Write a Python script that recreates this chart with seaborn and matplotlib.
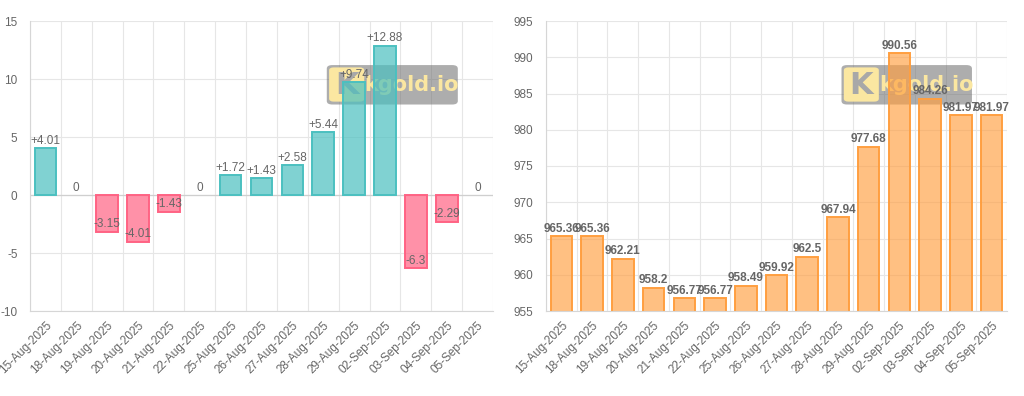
import matplotlib
matplotlib.use("Agg")
import matplotlib.pyplot as plt
import seaborn as sns
import numpy as np
from matplotlib.patches import FancyBboxPatch
from matplotlib.ticker import FixedLocator

dates = ['15-Aug-2025', '18-Aug-2025', '19-Aug-2025', '20-Aug-2025', '21-Aug-2025',
         '22-Aug-2025', '25-Aug-2025', '26-Aug-2025', '27-Aug-2025', '28-Aug-2025',
         '29-Aug-2025', '02-Sep-2025', '03-Sep-2025', '04-Sep-2025', '05-Sep-2025']
changes = [4.01, 0, -3.15, -4.01, -1.43, 0, 1.72, 1.43, 2.58, 5.44, 9.74, 12.88, -6.3, -2.29, 0]
prices = [965.36, 965.36, 962.21, 958.2, 956.77, 956.77, 958.49, 959.92, 962.5, 967.94,
          977.68, 990.56, 984.26, 981.97, 981.97]
left_yticks = [-10, -5, 0, 5, 10, 15]
right_yticks = [955, 960, 965, 970, 975, 980, 985, 990, 995]

sns.set_theme(style="white")
plt.rcParams['font.family'] = ['Liberation Sans', 'DejaVu Sans']
plt.rcParams['axes.unicode_minus'] = False

GRID = '#e6e6e6'
TXT = '#666666'
UP_FILL = (75/255, 192/255, 192/255, 0.7)
UP_EDGE = (75/255, 192/255, 192/255, 1.0)
DN_FILL = (255/255, 99/255, 132/255, 0.7)
DN_EDGE = (255/255, 99/255, 132/255, 1.0)
OR_FILL = (255/255, 159/255, 64/255, 0.65)
OR_EDGE = (255/255, 159/255, 64/255, 1.0)

fig = plt.figure(figsize=(10.24, 3.96), dpi=100)
axL = fig.add_axes([30/1024, 85/396, 463/1024, 290/396])
axR = fig.add_axes([546/1024, 85/396, 461/1024, 290/396])

n = len(dates)


def style_axes(ax, yticks, ylim):
    ax.set_xlim(-0.5, n - 0.5)
    ax.set_ylim(*ylim)
    ax.set_yticks(yticks)
    ax.set_yticklabels([str(t) for t in yticks])
    ax.set_xticks(range(n))
    ax.set_xticklabels(dates, rotation=45, ha='right', rotation_mode='anchor',
                       fontsize=8.5, color=TXT)
    ax.xaxis.set_minor_locator(FixedLocator(np.arange(-0.5, n, 1.0)))
    ax.tick_params(axis='x', which='major', length=0, pad=6)
    ax.tick_params(axis='x', which='minor', length=6, color=GRID, width=0.8)
    ax.tick_params(axis='y', which='major', length=6, color=GRID, width=0.8,
                   labelsize=8.5, labelcolor=TXT, pad=3)
    ax.grid(False)
    ax.grid(True, axis='y', which='major', color=GRID, linewidth=0.8, zorder=0)
    ax.grid(True, axis='x', which='minor', color=GRID, linewidth=0.8, zorder=0)
    ax.set_axisbelow(True)
    for s in ['top', 'right']:
        ax.spines[s].set_visible(False)
    ax.spines['left'].set_color('#d6d6d6')
    ax.spines['bottom'].set_color('#d6d6d6')
    ax.spines['left'].set_linewidth(0.8)
    ax.spines['bottom'].set_linewidth(0.8)
    ax.set_xlabel('')
    ax.set_ylabel('')


def watermark(ax):
    box = FancyBboxPatch((0.641, 0.712), 0.283, 0.136,
                         boxstyle="round,pad=0,rounding_size=0.012",
                         transform=ax.transAxes, facecolor=(0.42, 0.42, 0.42, 0.55),
                         edgecolor='none', zorder=1)
    ax.add_patch(box)
    logo = FancyBboxPatch((0.646, 0.722), 0.076, 0.118,
                          boxstyle="round,pad=0,rounding_size=0.01",
                          transform=ax.transAxes, facecolor='#fbe7a1',
                          edgecolor='none', zorder=1.1)
    ax.add_patch(logo)
    ax.text(0.684, 0.778, 'K', transform=ax.transAxes, fontsize=22, fontweight='bold',
            color='#a8a8a8', ha='center', va='center', zorder=1.2,
            family=['DejaVu Sans'])
    ax.text(0.825, 0.778, 'kgold.io', transform=ax.transAxes, fontsize=15,
            fontweight='bold', color='#fbe7a1', ha='center', va='center', zorder=1.2,
            family=['DejaVu Sans'])


# Left chart: daily change
sns.barplot(x=dates, y=changes, color=UP_FILL[:3], width=0.7, ax=axL, zorder=2)
for p in axL.patches:
    i = int(round(p.get_x() + p.get_width() / 2))
    v = changes[i]
    if v >= 0:
        p.set_facecolor(UP_FILL)
        p.set_edgecolor(UP_EDGE)
    else:
        p.set_facecolor(DN_FILL)
        p.set_edgecolor(DN_EDGE)
    p.set_linewidth(1.4 if v != 0 else 0)
    p.set_zorder(2)
style_axes(axL, left_yticks, (-10, 15))
axL.axhline(0, color='#cfcfcf', linewidth=0.9, zorder=1.5)
watermark(axL)
for i, v in enumerate(changes):
    if v > 0:
        lab = '+' + f'{v:g}'
    else:
        lab = f'{v:g}'
    axL.annotate(lab, (i, v), xytext=(0, 1), textcoords='offset points',
                 ha='center', va='bottom', fontsize=8.5, color=TXT, zorder=3)

# Right chart: price
sns.barplot(x=dates, y=prices, color=OR_FILL[:3], width=0.7, ax=axR, zorder=2)
for p in axR.patches:
    p.set_facecolor(OR_FILL)
    p.set_edgecolor(OR_EDGE)
    p.set_linewidth(1.4)
    p.set_zorder(2)
style_axes(axR, right_yticks, (955, 995))
watermark(axR)
for i, v in enumerate(prices):
    axR.annotate(f'{v:g}', (i, v), xytext=(0, 1), textcoords='offset points',
                 ha='center', va='bottom', fontsize=8.5, color=TXT,
                 fontweight='bold', zorder=3)

fig.savefig('out.png', dpi=100, facecolor='white')
